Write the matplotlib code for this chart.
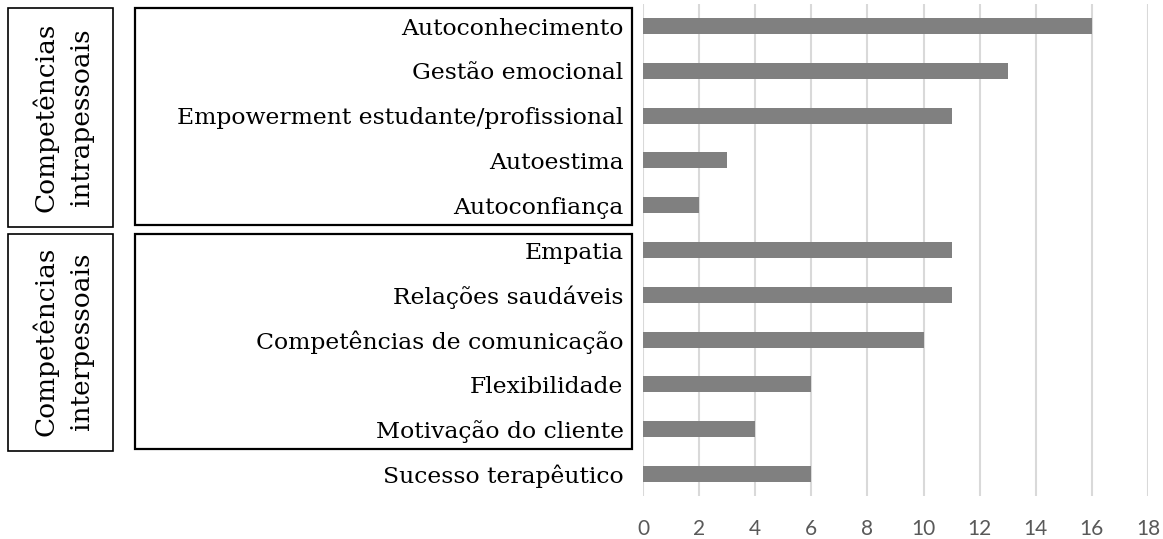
import numpy as np
import matplotlib.pyplot as plt
from matplotlib.patches import Rectangle
import matplotlib.transforms as mtransforms

categories = ["Autoconhecimento", "Gestão emocional", "Empowerment estudante/profissional",
              "Autoestima", "Autoconfiança", "Empatia", "Relações saudáveis",
              "Competências de comunicação", "Flexibilidade", "Motivação do cliente",
              "Sucesso terapêutico"]
values = [16, 13, 11, 3, 2, 11, 11, 10, 6, 4, 6]
ticks = [0, 2, 4, 6, 8, 10, 12, 14, 16, 18]
groups = ["Competências\nintrapessoais", "Competências\ninterpessoais"]
group_rows = [(0, 4), (5, 9)]

fig = plt.figure(figsize=(11.63, 5.39), dpi=100)
ax = fig.add_axes([0.5529, 0.079, 0.4342, 0.9143])

y = np.arange(len(categories))
ax.barh(y, values, height=0.36, color="#808080", zorder=3)
ax.set_ylim(len(categories) - 0.5, -0.5)
ax.set_xlim(0, 18)
ax.set_xticks(ticks)
ax.set_xticklabels([str(t) for t in ticks], family="Lato", fontsize=15, color="#595959")
ax.set_yticks(y)
ax.set_yticklabels(categories, family="DejaVu Serif", fontsize=16.9)
ax.tick_params(length=0)
ax.tick_params(axis="y", pad=14)
ax.tick_params(axis="x", pad=16)
ax.grid(axis="x", color="#d9d9d9", linewidth=1.5, zorder=0)
for s in ax.spines.values():
    s.set_visible(False)

# group boxes: x in figure fraction, y in data rows
tr = mtransforms.blended_transform_factory(fig.transFigure, ax.transData)
W = 1163
for (r0, r1), name, top_off in zip(group_rows, groups, [0.40, 0.36]):
    big = Rectangle((135 / W, r0 - top_off), (632 - 135) / W, (r1 - r0) + top_off + 0.45,
                    transform=tr, fill=False, edgecolor="black", linewidth=1.6, clip_on=False)
    fig.add_artist(big)
    small = Rectangle((8 / W, r0 - top_off), (113 - 8) / W, (r1 - r0) + top_off + 0.48,
                      transform=tr, fill=False, edgecolor="black", linewidth=1.2, clip_on=False)
    fig.add_artist(small)
    fig.text(63 / W, (r0 + r1) / 2 + 0.04, name, transform=tr, rotation=90,
             ha="center", va="center", family="DejaVu Serif", fontsize=19,
             linespacing=1.5)

fig.savefig("out.png", dpi=100)
